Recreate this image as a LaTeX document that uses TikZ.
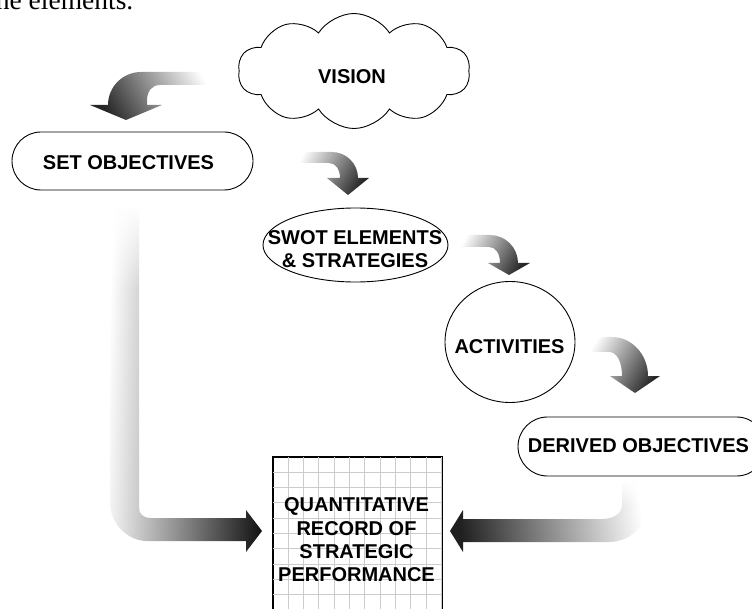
\documentclass[tikz,border=0pt]{standalone}
\usepackage{fontspec}
\setsansfont{Liberation Sans}
\newfontfamily\bodyserif{Liberation Serif}
\usetikzlibrary{shapes.geometric,shapes.symbols,shapes.misc,fadings}

% white veil that fades out downwards (soft start of the long arrows)
\tikzfading[name=veildown, top color=transparent!0, bottom color=transparent!100]

\begin{document}
\begin{tikzpicture}[x=1pt,y=-1pt,
  caption/.style={font=\sffamily\bfseries\fontsize{20}{23.4}\selectfont, align=center, text=black, inner sep=0pt},
  outline/.style={draw=black, line width=0.9pt, fill=white},
  pill/.style={outline, rounded rectangle, inner sep=0pt},
  oval/.style={outline, ellipse, inner sep=0pt},
  puff/.style={outline, cloud, cloud puffs=10, cloud puff arc=115, cloud ignores aspect, inner sep=0pt},
  gridline/.style={draw=black!20, line width=0.8pt},
  bendshade/.style={top color=white, bottom color=black!85, shading angle=#1},
]
\useasboundingbox (0,0) rectangle (752,609);
\clip (0,0) rectangle (752,609);

% last line of the preceding paragraph
\node[font=\bodyserif\fontsize{27.5}{30}\selectfont, anchor=base east, inner sep=0pt] (prevline) at (133.5,10) {the elements.};

% ---- boxes ----
\node[puff, minimum width=232, minimum height=115] (vision) at (354,71) {};
\node[caption] (visiontext) at (352,77) {VISION};

\node[pill, minimum width=241, minimum height=58] (setobj) at (132.5,161) {};
\node[caption] (setobjtext) at (128.5,163) {SET OBJECTIVES};

\node[oval, minimum width=185, minimum height=74] (swot) at (355.5,245) {};
\node[caption] (swottext) at (355,249) {SWOT ELEMENTS\\\& STRATEGIES};

\node[oval, minimum width=130, minimum height=121] (activ) at (510,342) {};
\node[caption] (activtext) at (509.5,347) {ACTIVITIES};

\node[pill, minimum width=248, minimum height=59] (derived) at (642,446.5) {};
\node[caption] (derivedtext) at (638.5,446) {DERIVED OBJECTIVES};

% record sheet: white page, squared ruling, then its frame and text
\node[outline, minimum width=169, minimum height=168, inner sep=0pt] (record) at (357.5,541) {};
\begin{scope}
  \clip (record.north west) rectangle (record.south east);
  \begin{scope}[shift={(record.north west)}]
    \draw[gridline] (0,0) grid[step=15.36pt] (170,170);
  \end{scope}
\end{scope}
\draw[black, line width=0.9pt] (record.north west) rectangle (record.south east);
\node[caption] (recordtext) at (356.5,540) {QUANTITATIVE\\RECORD OF\\STRATEGIC\\PERFORMANCE};

% ---- bent block arrows ----
% vision -> set objectives
\shade[bendshade=-60]
  (222,72) -- (141,72) .. controls (122.8,72) and (108,86.8) .. (108,105)
  -- (90,105) -- (126,120) -- (162,105) -- (147,105) -- (147,101)
  .. controls (147,91) and (152,85) .. (160,85) -- (222,85) -- cycle;

% set objectives -> swot
\shade[bendshade=60]
  (290,152) -- (332,152) .. controls (346.3,152) and (358,163.7) .. (358,178)
  -- (369,178) -- (348,195) -- (327,178) -- (340,178)
  .. controls (340,170) and (336,163) .. (329,163) -- (290,163) -- cycle;

% swot -> activities
\shade[bendshade=60]
  (453,235) -- (490,235) .. controls (505.4,235) and (518,247.6) .. (518,263)
  -- (530,263) -- (509,275) -- (488,263) -- (500,263)
  .. controls (500,254) and (496,247) .. (489,247) -- (453,247) -- cycle;

% activities -> derived objectives
\shade[bendshade=60]
  (583,337) -- (612,337) .. controls (631.8,337) and (648,354.5) .. (648,376)
  -- (660,376) -- (635,393) -- (610,376) -- (622,376)
  .. controls (622,362) and (617,352) .. (609,352) -- (583,352) -- cycle;

% set objectives -> record
\shade[top color=white, bottom color=black!92, shading angle=88]
  (110,208) -- (110,503) .. controls (110,523) and (127,541) .. (147,541)
  -- (246,541) -- (246,552) -- (262,531) -- (246,510) -- (246,518)
  -- (150,518) .. controls (144,518) and (139,514) .. (139,508) -- (139,208) -- cycle;
\fill[white, path fading=veildown] (108,206) rectangle (141,290);

% derived objectives -> record
\shade[top color=white, bottom color=black!88, shading angle=-82]
  (649,482) -- (649,502) .. controls (649,524) and (631,542) .. (609,542)
  -- (463,542) -- (463,552) -- (450,531) -- (463,510) -- (463,519)
  -- (602,519) .. controls (613,519) and (622,514) .. (622,505) -- (622,482) -- cycle;
\fill[white, path fading=veildown] (620,481) rectangle (651,505);
\end{tikzpicture}
\end{document}
